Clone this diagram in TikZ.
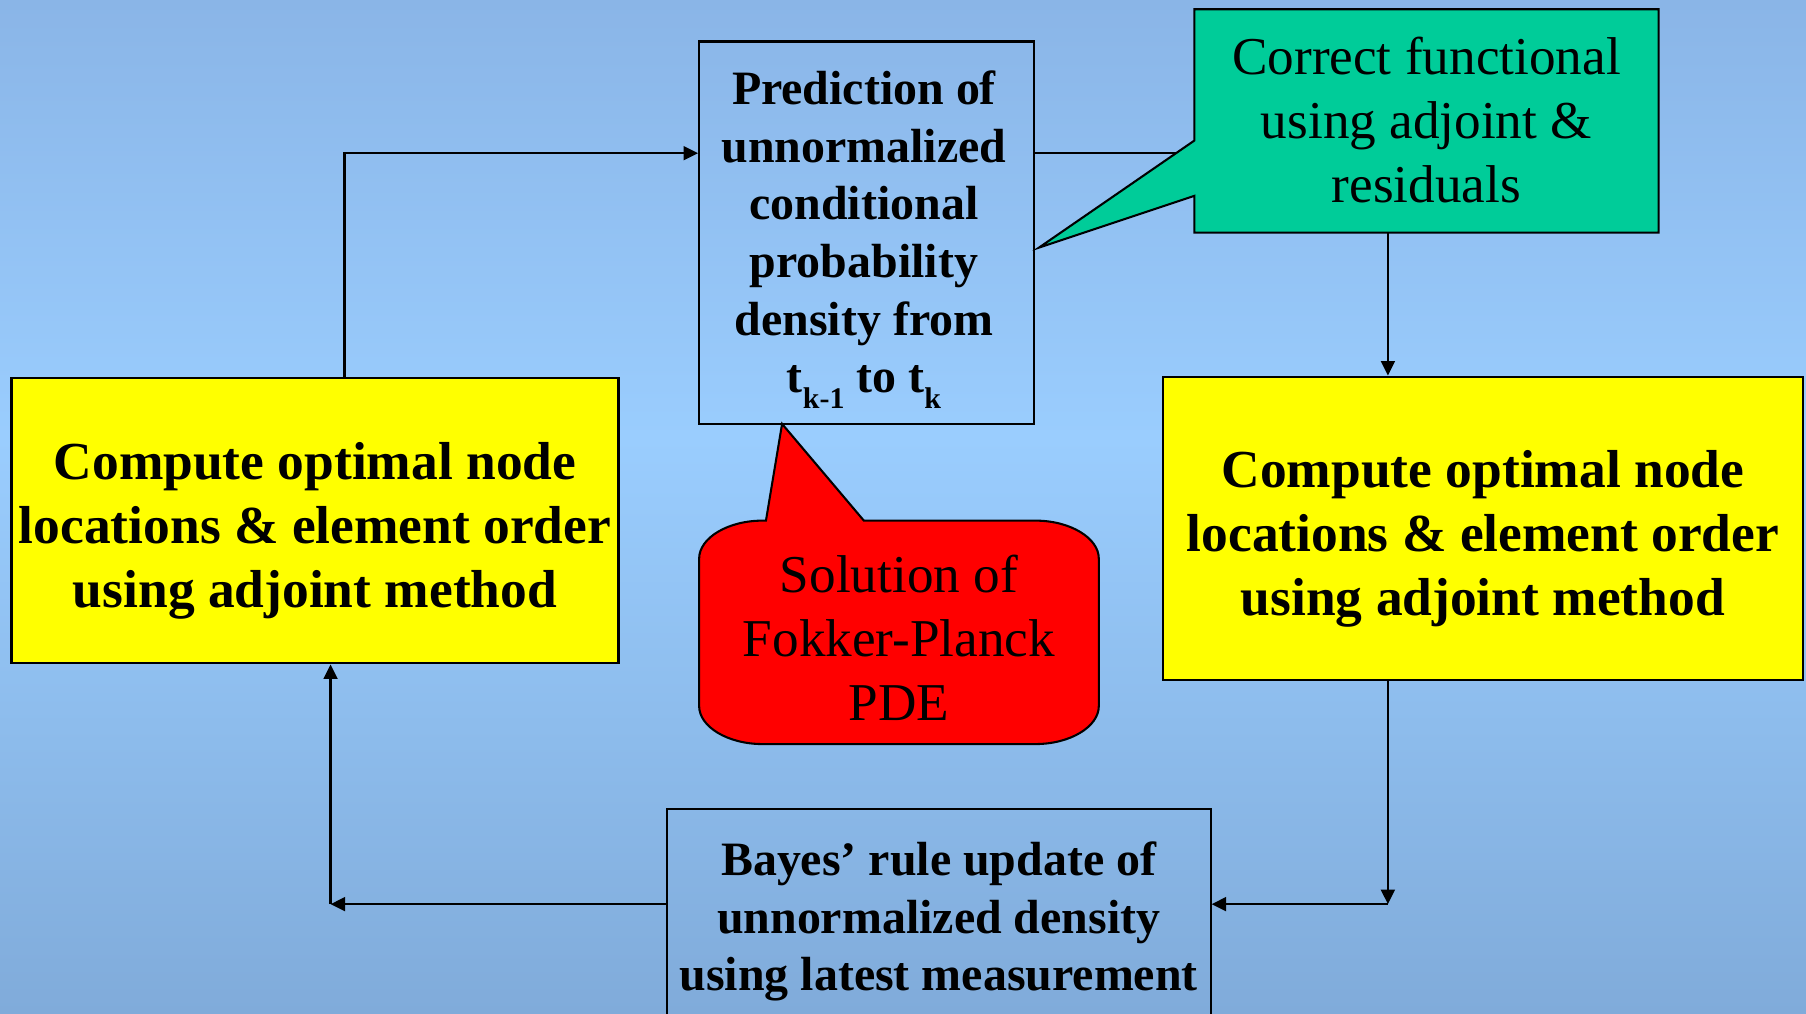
\documentclass[tikz,border=0pt]{standalone}
\usepackage{fontspec}
\setmainfont{Liberation Serif}
\usetikzlibrary{arrows.meta}
\definecolor{bgtop}{RGB}{138,181,231}
\definecolor{bgmid}{RGB}{154,205,254}
\definecolor{bgbot}{RGB}{128,171,218}
\definecolor{calloutgreen}{RGB}{0,204,153}
\definecolor{boxyellow}{RGB}{255,255,0}
\definecolor{calloutred}{RGB}{255,0,0}
\begin{document}
\begin{tikzpicture}[x=0.5pt,y=-0.5pt,
  box/.style={draw=black, line width=0.9pt, inner sep=0pt},
  txt/.style={align=center, inner sep=0pt},
  bluetxt/.style={font=\bfseries\fontsize{20.8}{25}\selectfont},
  yeltxt/.style={font=\bfseries\fontsize{23.2}{27.75}\selectfont},
  regtxt/.style={font=\fontsize{23.1}{27.75}\selectfont},
  arr/.style={-{Triangle[length=6.3pt,width=6pt]}, line width=1pt},
  shape outline/.style={draw=black, line width=0.9pt}]
\useasboundingbox (0,0) rectangle (1568,880);
\clip (0,0) rectangle (1568,880);
% background
\shade[top color=bgtop, bottom color=bgmid] (0,0) rectangle (1568,381);
\shade[top color=bgmid, bottom color=bgbot] (0,380) rectangle (1568,880);

% boxes
\node[box, minimum width=145.5pt, minimum height=166pt] (pred) at (752.5,202) {};
\node[box, fill=boxyellow, minimum width=277.5pt, minimum height=131.5pt] (ryel) at (1287.5,458.5) {};
\node[box, fill=boxyellow, minimum width=263.5pt, minimum height=124pt] (lyel) at (273.5,452) {};
\node[box, minimum width=236pt, minimum height=94pt] (bayes) at (815,796) {};

% box texts
\node[txt, bluetxt] (predtext) at ([xshift=-1.2pt,yshift=-3pt]pred.center)
  {Prediction of\\unnormalized\\conditional\\probability\\density from\\
   t\raisebox{-0.32em}{\fontsize{13}{13}\selectfont k-1} to t\raisebox{-0.32em}{\fontsize{13}{13}\selectfont k}};
\node[txt, yeltxt] (ryeltext) at ([yshift=-4.5pt]ryel.center)
  {Compute optimal node\\locations \& element order\\using adjoint method};
\node[txt, yeltxt] (lyeltext) at ([yshift=-4.5pt]lyel.center)
  {Compute optimal node\\locations \& element order\\using adjoint method};
\node[txt, bluetxt] (bayestext) at ([yshift=-2pt]bayes.center)
  {Bayes’ rule update of\\unnormalized density\\using latest measurement};

% connectors
\coordinate (c1) at (1205,133);
\coordinate (c2) at (299,133);
\coordinate (c3) at (1205,785);
\coordinate (c4) at (287,785);
\draw[arr] (pred.east |- c1) -- (c1) -- (c1 |- ryel.north);
\draw[arr] (c2 |- lyel.north) -- (c2) -- (pred.west |- c2);
\draw[arr] (c3 |- ryel.south) -- (c3);
\draw[arr] (c3) -- (bayes.east |- c3);
\draw[arr] (bayes.west |- c4) -- (c4);
\draw[arr] (c4) -- (c4 |- lyel.south);

% green callout
\draw[shape outline, fill=calloutgreen]
  (1037,8) -- (1440,8) -- (1440,202) -- (1037,202) -- (1037,170) -- (902,215) -- (1037,122) -- cycle;
\node[txt, regtxt, minimum width=201.5pt, minimum height=97pt] (green) at (1238.5,104)
  {Correct functional\\using adjoint \&\\residuals};

% red callout
\draw[shape outline, fill=calloutred]
  (665,452) -- (679,368) -- (750,452) -- (899,452)
  .. controls (929,452) and (954,467) .. (954,485) -- (954,613)
  .. controls (954,631) and (929,646) .. (899,646) -- (662,646)
  .. controls (632,646) and (607,631) .. (607,613) -- (607,485)
  .. controls (607,467) and (632,452) .. (662,452) -- cycle;
\node[txt, regtxt] (red) at (780.5,553.5) {Solution of\\Fokker-Planck\\PDE};
\end{tikzpicture}
\end{document}
